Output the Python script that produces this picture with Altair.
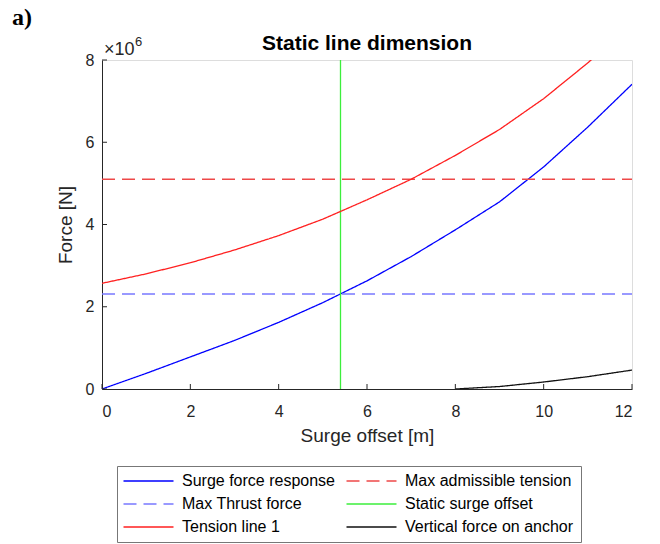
import altair as alt
import pandas as pd

# ---------------- data (force values in units of 1e6 N) ----------------
SURGE_X = [0, 1, 2, 3, 4, 5, 6, 7, 8, 9, 10, 11, 12]
SURGE_FORCE = [0.0, 0.38, 0.78, 1.18, 1.62, 2.10, 2.63, 3.22, 3.87, 4.55, 5.40, 6.37, 7.41]
TENSION_LINE = [2.57, 2.80, 3.07, 3.38, 3.73, 4.13, 4.60, 5.10, 5.68, 6.31, 7.06, 7.93, 8.90]
ANCHOR_X = [8, 9, 10, 11, 12]
ANCHOR_VERT = [0.0, 0.06, 0.17, 0.30, 0.46]
MAX_THRUST = 2.31
MAX_TENSION = 5.10
STATIC_OFFSET = 5.4

X_RANGE = [0, 12]
Y_RANGE = [0, 8]
X_TICKS = [0, 2, 4, 6, 8, 10, 12]
Y_TICKS = [0, 2, 4, 6, 8]

TITLE = "Static line dimension"
PANEL_LABEL = "a)"

# legend order (column-major, two columns)
SERIES = ["Surge force response", "Max Thrust force", "Tension line 1",
          "Max admissible tension", "Static surge offset", "Vertical force on anchor"]
COLORS = ["#0000FF", "#7878FF", "#FF2020", "#EE4848", "#3CEE3C", "#111111"]
DASHES = [[1, 0], [13, 7], [1, 0], [13, 7], [1, 0], [1, 0]]

FONT = "Liberation Sans"
AXC = "#262626"

# ---------------- build long table ----------------
rows = []
for i, (x, y) in enumerate(zip(SURGE_X, SURGE_FORCE)):
    rows.append({"series": "Surge force response", "x": x, "y": y, "ord": i})
for i, x in enumerate([SURGE_X[0], SURGE_X[-1]]):
    rows.append({"series": "Max admissible tension", "x": x, "y": MAX_TENSION, "ord": i})
for i, x in enumerate([SURGE_X[0], SURGE_X[-1]]):
    rows.append({"series": "Max Thrust force", "x": x, "y": MAX_THRUST, "ord": i})
for i, y in enumerate(Y_RANGE):
    rows.append({"series": "Static surge offset", "x": STATIC_OFFSET, "y": y, "ord": i})
for i, (x, y) in enumerate(zip(SURGE_X, TENSION_LINE)):
    rows.append({"series": "Tension line 1", "x": x, "y": y, "ord": i})
for i, (x, y) in enumerate(zip(ANCHOR_X, ANCHOR_VERT)):
    rows.append({"series": "Vertical force on anchor", "x": x, "y": y, "ord": i})
df = pd.DataFrame(rows)

W, H = 530, 329

xscale = alt.Scale(domain=X_RANGE, nice=False, zero=False)
yscale = alt.Scale(domain=Y_RANGE, nice=False)

xaxis = alt.Axis(values=X_TICKS, ticks=False, tickSize=0, grid=False,
                 labelFont=FONT, labelFontSize=16, labelColor=AXC, labelPadding=14,
                 title="Surge offset [m]", titleFont=FONT, titleFontSize=19,
                 titleFontWeight="normal", titleColor=AXC, titlePadding=7,
                 domainColor=AXC, domainWidth=1)
yaxis = alt.Axis(values=Y_TICKS, ticks=False, tickSize=0, grid=False,
                 labelFont=FONT, labelFontSize=16, labelColor=AXC, labelPadding=8,
                 title="Force [N]", titleFont=FONT, titleFontSize=19,
                 titleFontWeight="normal", titleColor=AXC, titlePadding=10,
                 domainColor=AXC, domainWidth=1)

legend = alt.Legend(orient="none", legendX=15, legendY=406, columns=2,
                    title=None, symbolType="M-5,0H5", symbolSize=100,
                    symbolOffset=16.5, symbolStrokeWidth=1.5,
                    labelFont=FONT, labelFontSize=16, labelLimit=400,
                    labelColor="black", labelOffset=25.5, fillColor="white",
                    strokeColor="#777777", padding=7, rowPadding=7,
                    columnPadding=8)

lines = alt.Chart(df).mark_line(clip=True, strokeWidth=1.3).encode(
    x=alt.X("x:Q", scale=xscale, axis=xaxis),
    y=alt.Y("y:Q", scale=yscale, axis=yaxis),
    color=alt.Color("series:N", scale=alt.Scale(domain=SERIES, range=COLORS), legend=legend),
    strokeDash=alt.StrokeDash("series:N", scale=alt.Scale(domain=SERIES, range=DASHES), legend=legend),
    order=alt.Order("ord:Q"),
)

# inward tick marks
xt = alt.Chart(pd.DataFrame({"v": X_TICKS})).mark_rule(color=AXC, strokeWidth=1).encode(
    x=alt.X("v:Q", scale=xscale), y=alt.value(H), y2=alt.value(H - 5))
yt = alt.Chart(pd.DataFrame({"v": Y_TICKS})).mark_rule(color=AXC, strokeWidth=1).encode(
    y=alt.Y("v:Q", scale=yscale), x=alt.value(0), x2=alt.value(5))

# annotations anchored at the top of the axes
corner = pd.DataFrame({"x": [X_RANGE[0]], "y": [Y_RANGE[1]]})
top_mid = pd.DataFrame({"x": [(X_RANGE[0] + X_RANGE[1]) / 2], "y": [Y_RANGE[1]]})

title_txt = alt.Chart(top_mid).mark_text(text=TITLE, font=FONT, fontSize=21,
                                         fontWeight="bold", color="black", align="center",
                                         baseline="alphabetic", dy=-10).encode(
    x=alt.X("x:Q", scale=xscale), y=alt.Y("y:Q", scale=yscale))
exp_base = alt.Chart(corner).mark_text(text="×10", font=FONT, fontSize=18, color=AXC,
                                       align="left", baseline="alphabetic", dx=2, dy=-5).encode(
    x=alt.X("x:Q", scale=xscale), y=alt.Y("y:Q", scale=yscale))
exp_sup = alt.Chart(corner).mark_text(text="6", font=FONT, fontSize=13, color=AXC,
                                      align="left", baseline="alphabetic", dx=33, dy=-14).encode(
    x=alt.X("x:Q", scale=xscale), y=alt.Y("y:Q", scale=yscale))
panel = alt.Chart(corner).mark_text(text=PANEL_LABEL, font="Liberation Serif", fontSize=24,
                                    fontWeight="bold", color="black", align="left",
                                    baseline="alphabetic", dx=-90, dy=-35).encode(
    x=alt.X("x:Q", scale=xscale), y=alt.Y("y:Q", scale=yscale))

chart = alt.layer(lines, xt, yt, title_txt, exp_base, exp_sup, panel).properties(
    width=W, height=H,
    autosize=alt.AutoSizeParams(type="none"),
    padding={"left": 102, "top": 60, "right": 28, "bottom": 155},
).configure_view(stroke=None).configure(background="white")

chart.save("out.html", embed_options={"renderer": "svg", "actions": False})
